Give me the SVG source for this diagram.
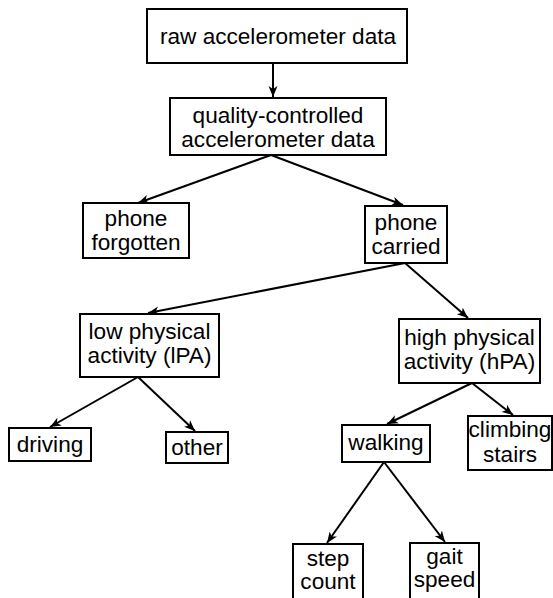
<svg xmlns="http://www.w3.org/2000/svg" width="553" height="598" viewBox="0 0 553 598">
  <style>
    .box { fill: #ffffff; stroke: #000000; stroke-width: 2; }
    .lbl { font-family: "Liberation Sans", Arial, sans-serif; font-size: 22.6px; fill: #000000; text-anchor: middle; }
    .edge { stroke: #000000; stroke-width: 2; fill: none; marker-end: url(#arrow); }
  </style>
  <defs>
    <marker id="arrow" markerUnits="userSpaceOnUse" markerWidth="12" markerHeight="10" refX="11" refY="5" orient="auto">
      <path d="M0,0.5 L11,5 L0,9.5 L3,5 Z" fill="#000000"/>
    </marker>
  </defs>
  <rect width="553" height="598" fill="#ffffff"/>

  <g id="connectors">
    <line class="edge" x1="273" y1="63" x2="273" y2="97"/>
    <line class="edge" x1="271" y1="155" x2="138" y2="203"/>
    <line class="edge" x1="271" y1="155" x2="403" y2="205"/>
    <line class="edge" x1="405" y1="263" x2="148" y2="313"/>
    <line class="edge" x1="405" y1="263" x2="468" y2="318"/>
    <line class="edge" x1="138" y1="377" x2="50" y2="427"/>
    <line class="edge" x1="138" y1="377" x2="195" y2="431"/>
    <line class="edge" x1="472" y1="383" x2="387" y2="424"/>
    <line class="edge" x1="472" y1="383" x2="513" y2="415"/>
    <line class="edge" x1="384" y1="462" x2="327" y2="543"/>
    <line class="edge" x1="384" y1="462" x2="445" y2="542"/>
  </g>

  <g id="raw-data">
    <rect class="box" x="147" y="9" width="260" height="54"/>
    <text class="lbl" x="278" y="44">raw accelerometer data</text>
  </g>

  <g id="qc-data">
    <rect class="box" x="170" y="98" width="216" height="57"/>
    <text class="lbl" x="278" y="123">quality-controlled</text>
    <text class="lbl" x="278" y="147">accelerometer data</text>
  </g>

  <g id="phone-forgotten">
    <rect class="box" x="83" y="203" width="106" height="55"/>
    <text class="lbl" x="136" y="226">phone</text>
    <text class="lbl" x="136" y="250">forgotten</text>
  </g>

  <g id="phone-carried">
    <rect class="box" x="365" y="206" width="82" height="57"/>
    <text class="lbl" x="406" y="230">phone</text>
    <text class="lbl" x="406" y="254">carried</text>
  </g>

  <g id="low-pa">
    <rect class="box" x="80" y="314" width="139" height="63"/>
    <text class="lbl" x="149.5" y="339">low physical</text>
    <text class="lbl" x="149.5" y="363">activity (lPA)</text>
  </g>

  <g id="high-pa">
    <rect class="box" x="399" y="319" width="141" height="64"/>
    <text class="lbl" x="469.5" y="345">high physical</text>
    <text class="lbl" x="469.5" y="369">activity (hPA)</text>
  </g>

  <g id="driving">
    <rect class="box" x="9" y="428" width="82" height="33"/>
    <text class="lbl" x="50" y="452">driving</text>
  </g>

  <g id="other">
    <rect class="box" x="166" y="432" width="62" height="31"/>
    <text class="lbl" x="197" y="455">other</text>
  </g>

  <g id="walking">
    <rect class="box" x="342" y="425" width="88" height="37"/>
    <text class="lbl" x="386" y="450">walking</text>
  </g>

  <g id="climbing-stairs">
    <rect class="box" x="468" y="416" width="84" height="54"/>
    <text class="lbl" x="510" y="437">climbing</text>
    <text class="lbl" x="510" y="462">stairs</text>
  </g>

  <g id="step-count">
    <rect class="box" x="293" y="544" width="70" height="64"/>
    <text class="lbl" x="328" y="566">step</text>
    <text class="lbl" x="328" y="589">count</text>
  </g>

  <g id="gait-speed">
    <rect class="box" x="410" y="543" width="69" height="64"/>
    <text class="lbl" x="444.5" y="564">gait</text>
    <text class="lbl" x="444.5" y="587">speed</text>
  </g>
</svg>
